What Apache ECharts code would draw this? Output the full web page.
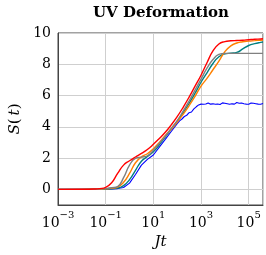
<!DOCTYPE html>
<html><head><meta charset="utf-8">
<script src="https://cdn.jsdelivr.net/npm/echarts@6/dist/echarts.min.js"></script>
<style>html,body{margin:0;padding:0;background:#fff}#c{width:266px;height:255px}</style>
</head><body><div id="c"></div>
<script>
// x positions as log10(Jt)
const logJt = [-3, -2, -1.5, -1.25, -1, -0.75, -0.5, -0.25, 0, 0.25, 0.5, 0.75, 1, 1.25, 1.5, 1.75, 2, 2.25, 2.5, 2.75, 3, 3.25, 3.5, 3.75, 4, 4.25, 4.5, 4.75, 5, 5.25, 5.5, 5.6];
const redS = [0, 0.005, 0.02, 0.05, 0.13, 0.42, 1.02, 1.55, 1.83, 2.07, 2.3, 2.55, 2.88, 3.25, 3.65, 4.12, 4.65, 5.25, 5.9, 6.6, 7.3, 8.1, 8.85, 9.3, 9.45, 9.5, 9.52, 9.54, 9.57, 9.6, 9.62, 9.63];
const grayS = [0, 0, 0.01, 0.02, 0.05, 0.1, 0.18, 0.75, 1.55, 1.98, 2.06, 2.15, 2.5, 2.95, 3.4, 3.9, 4.4, 5.0, 5.65, 6.35, 7.05, 7.75, 8.3, 8.63, 8.7, 8.7, 8.7, 8.7, 8.7, 8.7, 8.7, 8.7];
const orangeS = [0, 0, 0.005, 0.01, 0.03, 0.07, 0.15, 0.45, 1.02, 1.7, 2.08, 2.28, 2.6, 3.0, 3.45, 3.85, 4.3, 4.8, 5.35, 5.95, 6.6, 7.1, 7.65, 8.2, 8.8, 9.18, 9.36, 9.44, 9.48, 9.51, 9.54, 9.55];
const tealS = [0, 0, 0.005, 0.01, 0.02, 0.04, 0.08, 0.24, 0.62, 1.22, 1.8, 2.1, 2.4, 2.85, 3.35, 3.85, 4.35, 4.9, 5.5, 6.15, 6.85, 7.45, 8.05, 8.48, 8.67, 8.71, 8.76, 8.98, 9.2, 9.32, 9.4, 9.42];
const blueLogJt = [-3, -2, -1.5, -1.25, -1, -0.75, -0.5, -0.25, 0, 0.25, 0.5, 0.75, 1, 1.25, 1.5, 1.75, 2, 2.1, 2.2, 2.3, 2.4, 2.5, 2.6, 2.7, 2.8, 2.9, 3.0,
  3.05, 3.1, 3.15, 3.2, 3.25, 3.3, 3.35, 3.4, 3.45, 3.5,
  3.55, 3.6, 3.65, 3.7, 3.75, 3.8, 3.85, 3.9, 3.95, 4.0,
  4.05, 4.1, 4.15, 4.2, 4.25, 4.3, 4.35, 4.4, 4.45, 4.5,
  4.55, 4.6, 4.65, 4.7, 4.75, 4.8, 4.85, 4.9, 4.95, 5.0,
  5.05, 5.1, 5.15, 5.2, 5.25, 5.3, 5.35, 5.4, 5.45, 5.5,
  5.55, 5.6];
const blueS = [0, 0, 0.003, 0.006, 0.01, 0.02, 0.05, 0.12, 0.4, 0.95, 1.55, 1.92, 2.2, 2.7, 3.2, 3.7, 4.2, 4.38, 4.5, 4.66, 4.74, 4.9, 4.95, 5.15, 5.28, 5.4, 5.45,
  5.49, 5.44, 5.52, 5.46, 5.43, 5.53, 5.48, 5.45, 5.51, 5.47,
  5.54, 5.44, 5.50, 5.46, 5.52, 5.43, 5.49, 5.53, 5.45, 5.51,
  5.45, 5.48, 5.53, 5.44, 5.50, 5.47, 5.52, 5.45, 5.49, 5.55,
  5.45, 5.51, 5.46, 5.52, 5.44, 5.48, 5.53, 5.45, 5.50, 5.44,
  5.49, 5.52, 5.46, 5.51, 5.44, 5.48, 5.52, 5.45, 5.50, 5.44,
  5.47, 5.49];
const xTickExps = [-3, -1, 1, 3, 5];
const titleText = 'UV Deformation';

function pairs(xs, ys) { return xs.map((e, i) => [Math.pow(10, e), ys[i]]); }
const serif = 'DejaVu Serif';
function sup(v) {
  const e = Math.round(Math.log10(v));
  if (xTickExps.indexOf(e) < 0) return '';
  return '{n|10}{s|' + (e < 0 ? '\u2212' + (-e) : e) + '}';
}
function mk(name, xs, ys, color, smooth, w) {
  return { name, type: 'line', data: pairs(xs, ys), showSymbol: false, symbol: 'none', smooth: smooth,
    lineStyle: { color, width: w }, itemStyle: { color }, animation: false };
}
const chart = echarts.init(document.getElementById('c'), null, { renderer: 'canvas' });
chart.setOption({
  animation: false,
  grid: { left: 58, right: 3, top: 33, bottom: 50, containLabel: false, outerBoundsMode: 'none',
    show: true, borderColor: '#444', borderWidth: 1, backgroundColor: 'transparent' },
  graphic: [{ type: 'text', x: 161, y: 13, style: { text: titleText, font: 'bold 15px "DejaVu Serif"', fill: '#000', align: 'center', verticalAlign: 'middle' } }],
  xAxis: {
    type: 'log', logBase: 10, min: 1e-3, max: Math.pow(10, 5.6), interval: 2,
    name: '{i|Jt}', nameLocation: 'middle', nameGap: 30,
    nameTextStyle: { rich: { i: { fontFamily: serif, fontStyle: 'italic', fontSize: 15, color: '#000' } } },
    axisLine: { show: true, onZero: false, lineStyle: { color: '#444' } },
    axisTick: { show: false },
    splitLine: { show: true, lineStyle: { color: '#cfcfcf', width: 1 } },
    axisLabel: { formatter: sup, margin: 5, showMaxLabel: false, showMinLabel: true,
      rich: { n: { fontFamily: serif, fontSize: 14, color: '#000', lineHeight: 20, verticalAlign: 'bottom' },
              s: { fontFamily: serif, fontSize: 10, color: '#000', lineHeight: 12, verticalAlign: 'top' } } }
  },
  yAxis: {
    type: 'value', min: -1, max: 10,
    name: '{i|S}(\u2009{i|t})', nameLocation: 'middle', nameGap: 30, nameRotate: 90,
    nameTextStyle: { fontFamily: serif, fontSize: 15, color: '#000',
      rich: { i: { fontFamily: serif, fontStyle: 'italic', fontSize: 15, color: '#000' } } },
    axisLine: { show: true, onZero: false, lineStyle: { color: '#444' } },
    axisTick: { show: false },
    splitLine: { show: true, lineStyle: { color: '#cfcfcf', width: 1 } },
    axisLabel: { fontFamily: serif, fontSize: 14, color: '#000', margin: 7, showMinLabel: false }
  },
  series: [
    mk('blue', blueLogJt, blueS, '#0000ff', false, 1.1),
    mk('teal', logJt, tealS, '#008080', true, 1.4),
    mk('orange', logJt, orangeS, '#ff8000', true, 1.4),
    mk('gray', logJt, grayS, '#808080', true, 1.4),
    mk('red', logJt, redS, '#ff0000', true, 1.4)
  ]
});
</script></body></html>
